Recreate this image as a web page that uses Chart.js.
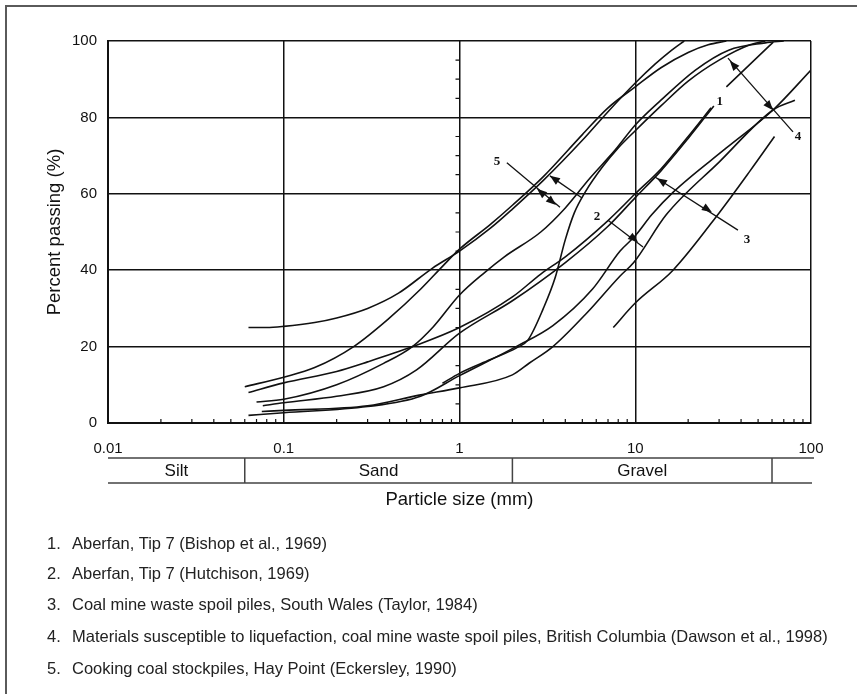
<!DOCTYPE html>
<html>
<head>
<meta charset="utf-8">
<script src="https://cdn.jsdelivr.net/npm/chart.js@4"></script>
<style>
  body { margin: 0; background: #fff; }
  #wrap { position: relative; width: 857px; height: 694px; overflow: hidden; background: #fff; }
  #frame { position: absolute; left: 5px; top: 5px; width: 900px; height: 800px; border-left: 2px solid #5a5a5a; border-top: 2px solid #5a5a5a; }
  canvas { position: absolute; left: 0; top: 0; }
  .note { position: absolute; white-space: nowrap; font-family: "Liberation Sans", Arial, sans-serif; font-size: 16.5px; line-height: 20px; color: #222; }
</style>
</head>
<body>
<div id="wrap">
  <div id="frame"></div>
  <canvas id="grading" width="857" height="694"></canvas>
</div>
<script>
// grain size curves, [size mm, % passing]
const curveA = [[0.063,25],[0.08,25],[0.1,25.3],[0.15,26.3],[0.2,27.5],[0.3,30],[0.45,34],[0.7,40.5],[1,45],[1.5,51],[2,56],[3,63.5],[5,74],[7,81.5],[10,89],[13,94],[16,97.5],[19,100]];
const curveB = [[0.06,9.5],[0.1,12],[0.15,14.5],[0.25,20],[0.4,27.5],[0.6,35],[0.8,41],[1,45.5],[1.5,52],[2,57],[3,64.5],[5,75.5],[7,82.5],[10,88],[14,93],[20,97],[26,99],[33,100]];
const curveD = [[0.07,5.5],[0.1,6.2],[0.2,10],[0.37,15.6],[0.54,20],[0.71,25.2],[1,33.5],[1.4,39.5],[1.8,43.5],[2.9,50],[4,56.3],[5.5,64],[7.7,71.5],[10,78],[14,84.5],[22,92.4],[34,97.6],[55,99.5],[70,100]];
const curveS = [[0.8,10.4],[1,13],[1.5,16.6],[2.1,19.6],[2.45,21.7],[3,30],[3.5,38],[4,48],[4.5,55],[5.2,60.5],[6.5,67],[8,72],[10,76.5],[14,83],[20,89.5],[30,95],[45,99],[55,100]];
const curveC = [[0.063,8],[0.1,10.5],[0.2,13.5],[0.3,16],[0.54,20],[1,25],[2,33],[2.9,39],[4,43.5],[7,53],[10,60],[14,66.5],[20,75],[27,82.5]];
const curveE = [[0.076,4.5],[0.1,5.3],[0.2,7],[0.37,9.5],[0.57,13.9],[1,23.5],[2,32],[4,42],[7,51.5],[10,59],[14,66],[20,74.5],[28,83]];
const curveF = [[0.063,2],[0.1,2.7],[0.3,4.3],[0.6,7],[1,12.4],[2.1,20],[3.4,25.5],[5.7,35],[8.2,45],[10,49],[12.4,54.5],[16.5,60.5],[33,72],[61,82],[100,92.4]];
const curveG = [[0.075,3],[0.1,3.3],[0.3,4.5],[0.59,7.3],[1,9.2],[2,12.6],[2.5,15.7],[3.4,20],[5.3,28.8],[8.2,38.5],[9.8,42],[15,54.5],[30,68.3],[61,82],[81,84.5]];
const curveH = [[7.5,25],[10,31.4],[16.4,40],[30,55],[45,66],[62,75]];
const curveK = [[33,88],[61,99.7]];
const allCurves = [curveA, curveB, curveD, curveS, curveC, curveE, curveF, curveG, curveH, curveK];

const xTicks = [0.01, 0.1, 1, 10, 100];
const xTickLabels = ['0.01', '0.1', '1', '10', '100'];
const soilNames = ['Silt', 'Sand', 'Gravel'];
const soilLimits = [0.01, 0.06, 2, 60];

// curve numbers and the bracket arrows
const tagText = ['1', '2', '3', '4', '5'];
const tagX = [30.3, 6.06, 43.2, 84.3, 1.635];
const tagY = [84, 53.9, 47.9, 74.9, 68.3];
const arrows = [
  { from: [1.86, 68.1], to: [3.73, 56.5], heads: [[2.76, 61.3, -1], [3.54, 57.1, 1]] },
  { from: [3.27, 64.7], to: [4.98, 58.9], heads: [[3.27, 64.7, -1]] },
  { from: [7.0, 53.1], to: [11.07, 46.1], heads: [[10.37, 47.4, 1]] },
  { from: [12.95, 64.4], to: [38.4, 50.5], heads: [[13.3, 64.1, -1], [27.3, 55.2, 1]] },
  { from: [33.7, 95.5], to: [79, 76.2], heads: [[34.5, 94.8, -1], [60.8, 81.9, 1]] }
];

const notes = [
  'Aberfan, Tip 7 (Bishop et al., 1969)',
  'Aberfan, Tip 7 (Hutchison, 1969)',
  'Coal mine waste spoil piles, South Wales (Taylor, 1984)',
  'Materials susceptible to liquefaction, coal mine waste spoil piles, British Columbia (Dawson et al., 1998)',
  'Cooking coal stockpiles, Hay Point (Eckersley, 1990)'
];
const noteY = [543, 573, 604, 636, 668];

const wrap = document.getElementById('wrap');
notes.forEach((t, i) => {
  const n = document.createElement('div');
  n.className = 'note';
  n.style.left = '47px';
  n.style.top = (noteY[i] - 10) + 'px';
  n.textContent = (i + 1) + '.';
  wrap.appendChild(n);
  const d = document.createElement('div');
  d.className = 'note';
  d.style.left = '72px';
  d.style.top = (noteY[i] - 10) + 'px';
  d.textContent = t;
  wrap.appendChild(d);
});

const FONT = '"Liberation Sans", Arial, sans-serif';

function noPad(s) {
  s.paddingLeft = 0; s.paddingRight = 0; s.paddingTop = 0; s.paddingBottom = 0;
}

const extras = {
  id: 'extras',
  afterDraw(chart) {
    const { ctx, scales: { x, y }, chartArea: a } = chart;
    ctx.save();
    ctx.strokeStyle = '#111';
    ctx.lineWidth = 1.2;
    // small ticks along the bottom
    ctx.beginPath();
    [0.01, 0.1, 1, 10].forEach(d => {
      for (let m = 2; m <= 9; m++) {
        const px = x.getPixelForValue(d * m);
        ctx.moveTo(px, a.bottom);
        ctx.lineTo(px, a.bottom - 4);
      }
    });
    // small ticks on the 1 mm line
    const p1 = x.getPixelForValue(1);
    for (let v = 5; v < 100; v += 5) {
      if (v % 20 === 0) continue;
      const py = y.getPixelForValue(v);
      ctx.moveTo(p1 - 4, py);
      ctx.lineTo(p1, py);
    }
    ctx.stroke();

    // soil classes strip
    const top = a.bottom + 35, bot = a.bottom + 60;
    ctx.strokeStyle = '#444';
    ctx.lineWidth = 1.5;
    ctx.beginPath();
    ctx.moveTo(a.left, top); ctx.lineTo(a.right + 3, top);
    ctx.moveTo(a.left, bot); ctx.lineTo(a.right + 1, bot);
    for (let i = 1; i < soilLimits.length; i++) {
      const px = x.getPixelForValue(soilLimits[i]);
      ctx.moveTo(px, top); ctx.lineTo(px, bot);
    }
    ctx.stroke();
    ctx.fillStyle = '#111';
    ctx.font = '17px ' + FONT;
    ctx.textAlign = 'center';
    ctx.textBaseline = 'middle';
    soilNames.forEach((n, i) => {
      const cx = (x.getPixelForValue(soilLimits[i]) + x.getPixelForValue(soilLimits[i + 1])) / 2;
      ctx.fillText(n, cx, (top + bot) / 2 + 1);
    });

    // bracket arrows
    ctx.strokeStyle = '#111';
    ctx.fillStyle = '#111';
    ctx.lineWidth = 1.3;
    arrows.forEach(ar => {
      const x0 = x.getPixelForValue(ar.from[0]), y0 = y.getPixelForValue(ar.from[1]);
      const x1 = x.getPixelForValue(ar.to[0]), y1 = y.getPixelForValue(ar.to[1]);
      ctx.beginPath(); ctx.moveTo(x0, y0); ctx.lineTo(x1, y1); ctx.stroke();
      const len = Math.hypot(x1 - x0, y1 - y0);
      const ux = (x1 - x0) / len, uy = (y1 - y0) / len;
      ar.heads.forEach(h => {
        const hx = x.getPixelForValue(h[0]), hy = y.getPixelForValue(h[1]);
        const dx = ux * h[2], dy = uy * h[2];
        const bx = hx - dx * 10, by = hy - dy * 10;
        ctx.beginPath();
        ctx.moveTo(hx, hy);
        ctx.lineTo(bx - dy * 4, by + dx * 4);
        ctx.lineTo(bx + dy * 4, by - dx * 4);
        ctx.closePath();
        ctx.fill();
      });
    });

    ctx.font = 'bold 13px "Liberation Serif", "Times New Roman", serif';
    tagText.forEach((t, i) => {
      ctx.fillText(t, x.getPixelForValue(tagX[i]), y.getPixelForValue(tagY[i]));
    });
    ctx.restore();
  }
};

new Chart(document.getElementById('grading'), {
  type: 'scatter',
  data: {
    datasets: allCurves.map(c => ({
      data: c.map(p => ({ x: p[0], y: p[1] })),
      showLine: true,
      borderColor: '#111',
      borderWidth: 1.6,
      pointRadius: 0,
      cubicInterpolationMode: 'monotone',
      fill: false
    }))
  },
  options: {
    responsive: false,
    animation: false,
    layout: { padding: { left: 35, right: 46, top: 41, bottom: 181 } },
    plugins: { legend: { display: false }, tooltip: { enabled: false } },
    scales: {
      x: {
        type: 'logarithmic',
        min: 0.01,
        max: 100,
        afterBuildTicks: s => { s.ticks = xTicks.map(v => ({ value: v })); },
        afterFit: s => { s.height = 90; noPad(s); },
        ticks: {
          autoSkip: false,
          maxRotation: 0,
          padding: 17,
          color: '#111',
          font: { family: FONT, size: 15 },
          callback: (v, i) => xTickLabels[i]
        },
        grid: { color: '#111', lineWidth: 1.5, drawTicks: false },
        border: { display: true, color: '#111', width: 2 },
        title: {
          display: true,
          text: 'Particle size (mm)',
          color: '#111',
          font: { family: FONT, size: 18.5 },
          padding: { top: 0, bottom: 2 }
        }
      },
      y: {
        min: 0,
        max: 100,
        afterFit: s => { s.width = 73; noPad(s); },
        ticks: {
          stepSize: 20,
          padding: 11,
          color: '#111',
          font: { family: FONT, size: 15 }
        },
        grid: { color: '#111', lineWidth: 1.5, drawTicks: false },
        border: { display: true, color: '#111', width: 2 },
        title: {
          display: true,
          text: 'Percent passing (%)',
          color: '#111',
          font: { family: FONT, size: 18.5 },
          padding: { top: 9, bottom: 0 }
        }
      }
    }
  },
  plugins: [extras]
});
</script>
</body>
</html>
